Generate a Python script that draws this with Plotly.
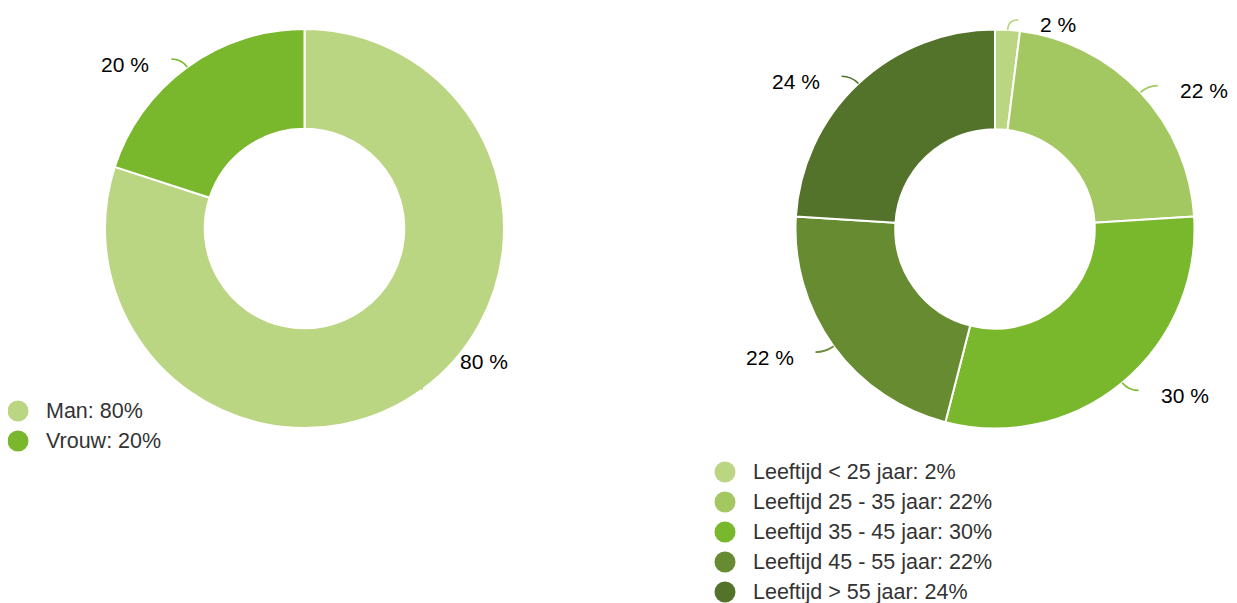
import math

import plotly.graph_objects as go

W, H = 1237, 603
PAGE_OFF = 8  # body margin of the html page

# ── data ──────────────────────────────────────────────────────────────────────
gender_labels = ["Man", "Vrouw"]
gender_values = [80, 20]
gender_colors = ["#bad682", "#79b72c"]

age_labels = [
    "Leeftijd < 25 jaar",
    "Leeftijd 25 - 35 jaar",
    "Leeftijd 35 - 45 jaar",
    "Leeftijd 45 - 55 jaar",
    "Leeftijd > 55 jaar",
]
age_values = [2, 22, 30, 22, 24]
age_colors = ["#bad682", "#a3c862", "#79b72c", "#678b31", "#53722a"]

FONT = "Liberation Sans, Arial, sans-serif"
R = 199.5  # outer radius in px


def px(x):
    return (x - PAGE_OFF) / W


def py(y):
    return 1 - (y - PAGE_OFF) / H


# pie geometry: centre (px on screen), label y clamp, legend origin
CHARTS = [
    dict(labels=gender_labels, values=gender_values, colors=gender_colors,
         cx=304.5, cy=228.5, ymax=361, legend=(18, 411)),
    dict(labels=age_labels, values=age_values, colors=age_colors,
         cx=995.0, cy=229.0, ymax=999, legend=(725, 472)),
]

fig = go.Figure()
shapes, annotations = [], []

for c in CHARTS:
    cx, cy = c["cx"], c["cy"]
    fig.add_trace(go.Pie(
        labels=c["labels"], values=c["values"],
        marker=dict(colors=c["colors"], line=dict(color="#ffffff", width=2)),
        hole=0.5, sort=False, direction="clockwise", rotation=0,
        textinfo="none", hoverinfo="label+percent", showlegend=False,
        domain=dict(x=[px(cx - R), px(cx + R)], y=[py(cy + R), py(cy - R)]),
    ))

    # data labels: connector runs out radially, then bends horizontal
    total = sum(c["values"])
    cum = 0
    for val, col in zip(c["values"], c["colors"]):
        mid = (cum + val / 2) / total * 2 * math.pi
        cum += val
        sx = 1 if math.sin(mid) >= 0 else -1
        p0x = cx + R * math.sin(mid)
        p0y = cy - R * math.cos(mid)
        kx = cx + (R + 10) * math.sin(mid)
        ky = cy - (R + 10) * math.cos(mid)
        ex = kx + sx * 10
        ey = min(ky, c["ymax"] - 5)
        shapes.append(dict(
            type="path", xref="paper", yref="paper",
            path=f"M {px(p0x)} {py(p0y)} Q {px(kx)} {py(ey)} {px(ex)} {py(ey)}",
            line=dict(color=col, width=1.6),
        ))
        annotations.append(dict(
            x=px(ex + sx * 20), y=py(ey + 5), xref="paper", yref="paper",
            text=f"{val} %", showarrow=False,
            xanchor="left" if sx > 0 else "right", yanchor="middle",
            font=dict(family=FONT, size=21, color="#000000"),
        ))

    # legend with round markers
    lx, ly = c["legend"]
    for i, (lab, val, col) in enumerate(zip(c["labels"], c["values"], c["colors"])):
        yy = ly + i * 30
        shapes.append(dict(
            type="circle", xref="paper", yref="paper",
            x0=px(lx - 10.5), x1=px(lx + 10.5), y0=py(yy + 10.5), y1=py(yy - 10.5),
            fillcolor=col, line=dict(width=0),
        ))
        annotations.append(dict(
            x=px(lx + 26), y=py(yy), xref="paper", yref="paper",
            text=f"{lab}: {val}%", showarrow=False,
            xanchor="left", yanchor="middle",
            font=dict(family=FONT, size=21.5, color="#333333"),
        ))

fig.update_layout(
    width=W, height=H,
    margin=dict(l=0, r=0, t=0, b=0),
    paper_bgcolor="#ffffff", plot_bgcolor="#ffffff",
    shapes=shapes, annotations=annotations,
    showlegend=False,
)

fig.write_html("out.html")
